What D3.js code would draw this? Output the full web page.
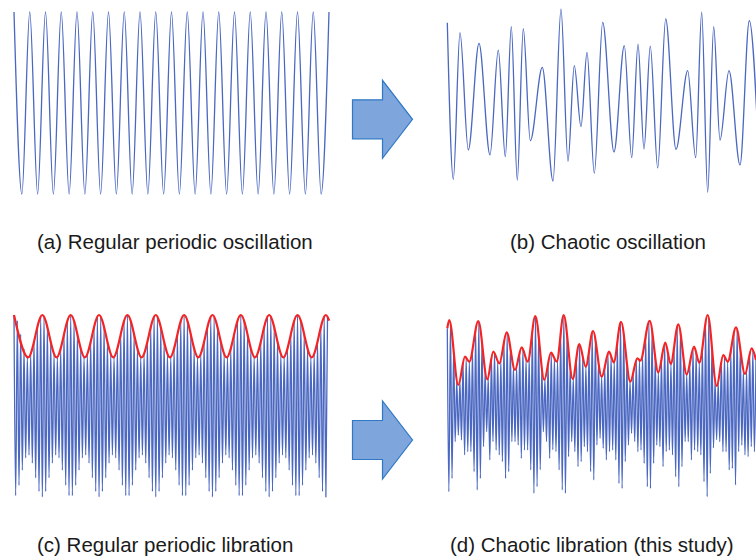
<!DOCTYPE html>
<meta charset="utf-8">
<style>
  body { margin: 0; background: #fff; }
  .label { font-family: "Liberation Sans", Arial, sans-serif; font-size: 20.5px; fill: #1a1a1a; }
</style>
<body>
<script src="https://cdn.jsdelivr.net/npm/d3@7/dist/d3.min.js"></script>
<script>

    var width = 756,
        height = 558;

    // (a) regular oscillation: extrema per cycle (peak at k, trough at k+0.5)
    var aPeaks = [1, 1, 1, 1, 1, 1, 1, 1, 1, 1, 1, 1, 1, 1, 1, 1, 1, 1, 1, 1, 1];
    var aTroughs = [-1, -1, -1, -1, -1, -1, -1, -1, -1, -1, -1, -1, -1, -1, -1, -1, -1, -1, -1, -1];

    // (b) chaotic oscillation: extrema times and values
    var bTime = [0, 0.381, 0.806, 1.333, 2.013, 2.711, 3.238, 3.683, 4.063, 4.444,
        4.825, 5.270, 6.032, 6.711, 7.219, 7.663, 8.063, 8.489, 8.870, 9.333,
        9.867, 10.584, 11.238, 11.708, 12.108, 12.489, 12.889, 13.359, 13.867, 14.521,
        15.263, 15.771, 16.152, 16.533, 16.914, 17.314, 17.886, 18.584, 19.175, 19.79];
    var bValue = [0.882, -0.838, 0.773, -0.516, 0.656, -0.571, 0.582, -0.590, 0.838, -0.846,
        0.816, -0.414, 0.392, -0.857, 1.030, -0.641, 0.410, -0.260, 0.557, -0.773,
        0.887, -0.538, 0.630, -0.601, 0.648, -0.505, 0.626, -0.714, 0.923, -0.509,
        0.355, -0.601, 0.997, -0.981, 0.838, -0.407, 0.355, -0.681, 0.904, -0.626];

    // (c) regular libration: carrier peaks / troughs and the envelope extrema
    var cPeaks = [1.0, 0.939, 0.789, 0.628, 0.539, 0.570, 0.704, 0.871, 0.984, 0.984, 0.871, 0.704, 0.570, 0.539, 0.628, 0.789, 0.939,
        1.0, 0.939, 0.789, 0.628, 0.539, 0.570, 0.704, 0.871, 0.984, 0.984, 0.871, 0.704, 0.570, 0.539, 0.628, 0.789, 0.939,
        1.0, 0.939, 0.789, 0.628, 0.539, 0.570, 0.704, 0.871, 0.984, 0.984, 0.871, 0.704, 0.570, 0.539, 0.628, 0.789, 0.939,
        1.0, 0.939, 0.789, 0.628, 0.539, 0.570, 0.704, 0.871, 0.984, 0.984, 0.871, 0.704, 0.570, 0.539, 0.628, 0.789, 0.939,
        1.0, 0.939, 0.789, 0.628, 0.539, 0.570, 0.704, 0.871, 0.984, 0.984, 0.871, 0.704, 0.570, 0.539, 0.628, 0.789, 0.939,
        1.0, 0.939, 0.789, 0.628, 0.539, 0.570, 0.704, 0.871, 0.984, 0.984];
    var cTroughs = [-0.984, -0.871, -0.704, -0.570, -0.539, -0.628, -0.789, -0.939, -1.0, -0.939, -0.789, -0.628, -0.539, -0.570, -0.704, -0.871, -0.984,
        -0.984, -0.871, -0.704, -0.570, -0.539, -0.628, -0.789, -0.939, -1.0, -0.939, -0.789, -0.628, -0.539, -0.570, -0.704, -0.871, -0.984,
        -0.984, -0.871, -0.704, -0.570, -0.539, -0.628, -0.789, -0.939, -1.0, -0.939, -0.789, -0.628, -0.539, -0.570, -0.704, -0.871, -0.984,
        -0.984, -0.871, -0.704, -0.570, -0.539, -0.628, -0.789, -0.939, -1.0, -0.939, -0.789, -0.628, -0.539, -0.570, -0.704, -0.871, -0.984,
        -0.984, -0.871, -0.704, -0.570, -0.539, -0.628, -0.789, -0.939, -1.0, -0.939, -0.789, -0.628, -0.539, -0.570, -0.704, -0.871, -0.984,
        -0.984, -0.871, -0.704, -0.570, -0.539, -0.628, -0.789, -0.939, -1.0];
    var cEnvTime = [0, 4.25, 8.5, 12.75, 17, 21.25, 25.5, 29.75, 34, 38.25, 42.5, 46.75,
        51, 55.25, 59.5, 63.75, 68, 72.25, 76.5, 80.75, 85, 89.25, 93.5, 94.5];
    var cEnvValue = [1, 0.535, 1, 0.535, 1, 0.535, 1, 0.535, 1, 0.535, 1, 0.535,
        1, 0.535, 1, 0.535, 1, 0.535, 1, 0.535, 1, 0.535, 1, 0.939];

    // (d) chaotic libration (this study)
    var dPeaks = [0.854, 0.916, 0.612, 0.281, 0.273, 0.481, 0.532, 0.487, 0.613, 0.845,
        0.929, 0.707, 0.383, 0.311, 0.528, 0.584, 0.490, 0.504, 0.709, 0.807,
        0.646, 0.430, 0.430, 0.596, 0.630, 0.514, 0.534, 0.824, 0.988, 0.775,
        0.411, 0.293, 0.468, 0.586, 0.522, 0.505, 0.801, 1.0, 0.791, 0.427,
        0.305, 0.530, 0.680, 0.541, 0.433, 0.603, 0.813, 0.738, 0.472, 0.322,
        0.427, 0.583, 0.548, 0.486, 0.707, 0.922, 0.798, 0.467, 0.269, 0.358,
        0.511, 0.503, 0.560, 0.773, 0.929, 0.838, 0.532, 0.370, 0.511, 0.689,
        0.593, 0.463, 0.645, 0.878, 0.817, 0.517, 0.348, 0.467, 0.638, 0.590,
        0.476, 0.638, 0.923, 0.974, 0.651, 0.282, 0.262, 0.492, 0.548, 0.487,
        0.603, 0.811, 0.846, 0.631, 0.391, 0.388, 0.577, 0.612, 0.505];
    var dTroughs = [-0.942, -0.795, -0.392, -0.32, -0.374, -0.538, -0.502, -0.502, -0.722, -0.923,
        -0.795, -0.447, -0.282, -0.593, -0.392, -0.484, -0.538, -0.612, -0.795, -0.722,
        -0.392, -0.392, -0.429, -0.575, -0.484, -0.484, -0.703, -0.959, -0.887, -0.70,
        -0.282, -0.392, -0.575, -0.48, -0.502, -0.703, -0.923, -0.959, -0.557, -0.392,
        -0.502, -0.667, -0.612, -0.447, -0.502, -0.722, -0.813, -0.429, -0.355, -0.465,
        -0.593, -0.502, -0.484, -0.593, -0.850, -0.905, -0.612, -0.43, -0.300, -0.392,
        -0.502, -0.484, -0.630, -0.887, -0.905, -0.630, -0.43, -0.447, -0.667, -0.502,
        -0.484, -0.538, -0.777, -0.887, -0.667, -0.392, -0.392, -0.593, -0.484, -0.502,
        -0.538, -0.832, -0.997, -0.740, -0.46, -0.37, -0.392, -0.502, -0.502, -0.703,
        -0.685, -0.868, -0.502, -0.43, -0.538, -0.557, -0.447, -0.502];
    var dEnvTime = [0, 0.63, 3.49, 5.62, 6.98, 9.84, 12.70, 14.60, 16.51, 18.86,
        21.49, 23.62, 25.52, 27.94, 30.79, 32.92, 34.73, 36.95, 39.81, 41.90,
        43.94, 46.25, 49.02, 51.33, 52.83, 55.14, 58.10, 60.32, 61.27, 64.25,
        66.98, 69.21, 70.92, 73.33, 76.0, 78.32, 80.0, 82.67, 85.52, 87.62,
        89.02, 91.65, 94.51, 96.63, 98.0];
    var dEnvValue = [0.854, 0.945, 0.231, 0.542, 0.487, 0.934, 0.293, 0.597, 0.469, 0.810,
        0.396, 0.645, 0.487, 0.989, 0.286, 0.586, 0.487, 1.0, 0.297, 0.681,
        0.432, 0.824, 0.322, 0.597, 0.480, 0.926, 0.267, 0.524, 0.498, 0.937,
        0.370, 0.696, 0.462, 0.898, 0.348, 0.652, 0.476, 1.0, 0.220, 0.560,
        0.487, 0.865, 0.352, 0.634, 0.505];

    var labels = ["(a) Regular periodic oscillation", "(b) Chaotic oscillation",
        "(c) Regular periodic libration", "(d) Chaotic libration (this study)"];

    var blue = "#4a67c1",
        red = "#f42424";

    var svg = d3.select("body").append("svg")
            .attr("width", width)
            .attr("height", height);

    // scales for each panel
    var xA = d3.scaleLinear().domain([0, 20]).range([14, 329]),
        xB = d3.scaleLinear().domain([0, 19.6]).range([447.3, 756]),
        xC = d3.scaleLinear().domain([0, 94.5]).range([14, 329.2]),
        xD = d3.scaleLinear().domain([0, 98]).range([447.3, 756]),
        yTop = d3.scaleLinear().domain([-1, 1]).range([194, 12]),
        yBot = d3.scaleLinear().domain([-1, 1]).range([497, 315]);

    //把峰值和谷值交错排成一条线
    function carrier(peaks, troughs) {
        var pts = [];
        peaks.forEach(function(p, k) {
            pts.push([k, p]);
            if (k < troughs.length) pts.push([k + 0.5, troughs[k]]);
        });
        return pts;
    }

    function draw(pts, x, y, color, w) {
        var line = d3.line()
                .x(function(d) { return x(d[0]); })
                .y(function(d) { return y(d[1]); })
                .curve(d3.curveMonotoneX);
        svg.append("path")
                .attr("d", line(pts))
                .attr("fill", "none")
                .attr("stroke", color)
                .attr("stroke-width", w)
                .attr("stroke-linejoin", "round");
    }

    draw(carrier(aPeaks, aTroughs), xA, yTop, blue, 1.3);
    draw(bTime.map(function(t, i) { return [t, bValue[i]]; }), xB, yTop, blue, 1.3);

    draw(carrier(cPeaks, cTroughs), xC, yBot, blue, 1.3);
    draw(cEnvTime.map(function(t, i) { return [t, cEnvValue[i]]; }), xC, yBot, red, 2.2);

    draw(carrier(dPeaks, dTroughs), xD, yBot, blue, 1.3);
    draw(dEnvTime.map(function(t, i) { return [t, dEnvValue[i]]; }), xD, yBot, red, 2.2);

    // arrows between the panels
    var arrowShape = "M-30,-19.5 L0,-19.5 L0,-39 L30,0 L0,39 L0,19.5 L-30,19.5 Z";
    [119.3, 440].forEach(function(cy) {
        svg.append("path")
                .attr("d", arrowShape)
                .attr("transform", "translate(382.5," + cy + ")")
                .attr("fill", "#7ea6dd")
                .attr("stroke", "#2f78c4")
                .attr("stroke-width", 1.2);
    });

    // panel captions
    var labelPos = [[37, 249], [510, 249], [37, 552], [450, 552]];
    svg.selectAll("text.label")
            .data(labels)
            .enter().append("text")
            .attr("class", "label")
            .attr("x", function(d, i) { return labelPos[i][0]; })
            .attr("y", function(d, i) { return labelPos[i][1]; })
            .text(function(d) { return d; });

</script>
